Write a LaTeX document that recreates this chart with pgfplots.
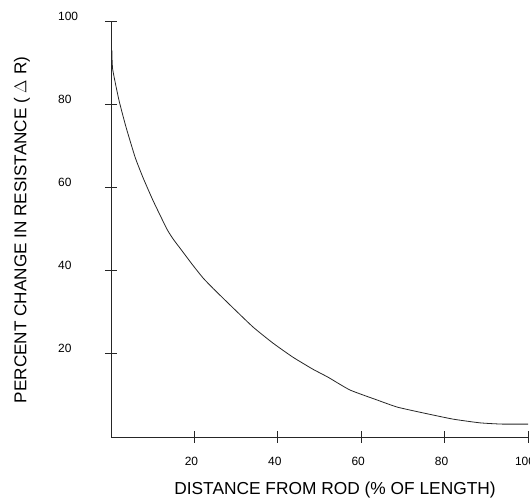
\documentclass[border=0pt]{standalone}
\usepackage{pgfplots}
\pgfplotsset{compat=1.18}
\usepackage{fontspec}
\setmainfont{Liberation Sans}
\begin{document}
\begin{tikzpicture}
\useasboundingbox (-111bp,-63bp) rectangle (419bp,437bp);
\begin{axis}[
  at={(0,0)}, anchor=origin,
  scale only axis,
  width=417bp, height=416bp,
  xmin=0, xmax=100, ymin=0, ymax=100,
  axis lines*=left,
  axis line style={line width=1bp, black!85},
  xtick={20,40,60,80,100},
  ytick={20,40,60,80,100},
  tick align=center,
  major tick length=12bp,
  tick style={line width=0.9bp, black!85},
  /pgf/number format/assume math mode=true,
  ticklabel style={font=\fontsize{12}{12}\selectfont},
  xticklabel style={anchor=north, inner sep=0pt, yshift=-14bp, xshift=-3bp},
  yticklabel style={anchor=west, inner sep=0pt, xshift=-47bp, yshift=5bp},
  clip=false,
]
\addplot[black!85, line width=0.8bp, smooth, tension=0.3] coordinates {
(0.2,93) (0.4,88.4) (1.9,81) (3.6,74.5) (5.8,67.2) (7.7,62.3) (10.1,56.8)
(13.4,50.0) (14.9,47.6) (17.3,44.4) (19.7,41.2) (22.1,38.2) (24.5,35.7)
(29.3,31) (34.1,26.4) (38.8,22.6) (43.6,19.2) (48.4,16.3) (52,14.4)
(57.3,11.3) (63.8,8.9) (68.6,7.2) (74.8,5.8) (82,4.3) (88.5,3.4)
(93.8,3.1) (100,3.1)
};
\end{axis}
\node[font=\fontsize{17.4}{20}\selectfont, anchor=base] at (224bp,-57bp) {DISTANCE FROM ROD (\% OF LENGTH)};
\node[font=\fontsize{17.2}{20}\selectfont, rotate=90] at (-89bp,207bp) {PERCENT CHANGE IN RESISTANCE ( $\Delta$ R)};
\end{tikzpicture}
\end{document}
